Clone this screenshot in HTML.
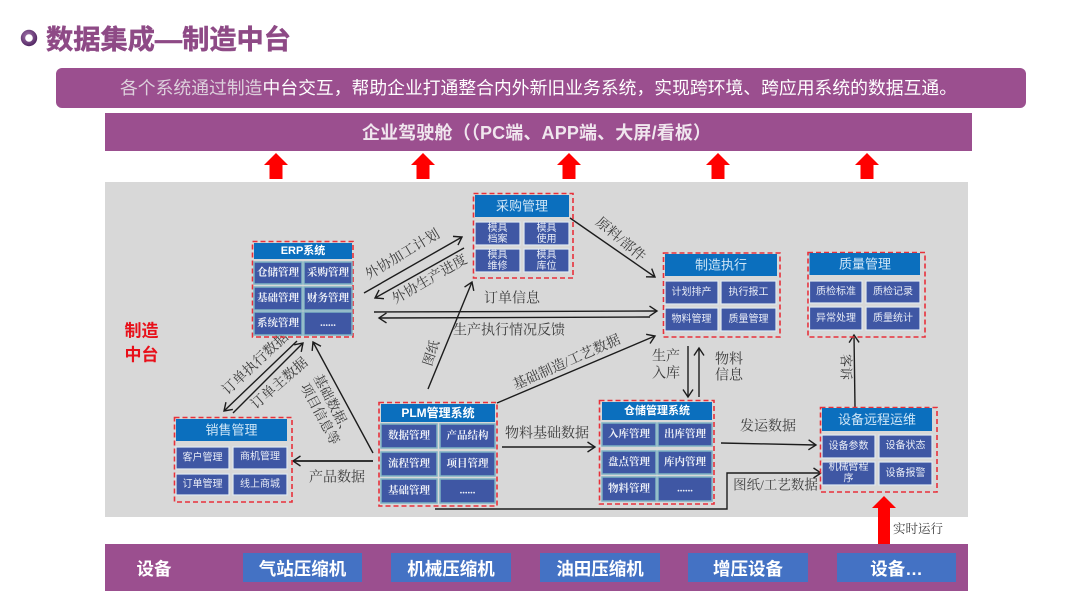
<!DOCTYPE html>
<html lang="zh">
<head>
<meta charset="utf-8">
<title>数据集成—制造中台</title>
<style>
html,body{margin:0;padding:0;background:#fff;width:1080px;height:608px;overflow:hidden}
svg{display:block;filter:blur(0.3px)}
text{font-family:"Liberation Sans","Noto Sans CJK SC",sans-serif}
.l{font-family:"Liberation Serif","Noto Serif CJK SC",serif;fill:#3c3c3c;font-size:14px;text-anchor:middle;dominant-baseline:central}
.h{fill:#0b6fbe}
.c{fill:#3f57a4;stroke:#dfe8f0;stroke-width:1.2}
.c2{fill:#3f57a4;stroke:#7fb3c4;stroke-width:1.5}
.d{fill:none;stroke:#e8303a;stroke-width:1.6;stroke-dasharray:5 3}
.ht{fill:#cfe6f7;font-size:13px;text-anchor:middle;dominant-baseline:central}
.hb{fill:#fff;font-size:11px;font-weight:bold;text-anchor:middle;dominant-baseline:central}
.t{fill:#e8ecf6;font-size:10px;text-anchor:middle;dominant-baseline:central}
.tb{fill:#eef1f8;font-size:10.5px;font-weight:bold;text-anchor:middle;dominant-baseline:central;font-family:"Liberation Serif","Noto Serif CJK SC",serif}
.a{fill:none;stroke:#1c1c1c;stroke-width:1.4;marker-end:url(#m)}
.e{fill:#4472c4}
.et{fill:#fff;font-size:17.5px;font-weight:bold;text-anchor:middle;dominant-baseline:central}
</style>
</head>
<body>
<svg width="1080" height="608" viewBox="0 0 1080 608" xmlns="http://www.w3.org/2000/svg">
<defs>
<marker id="m" markerUnits="userSpaceOnUse" markerWidth="14" markerHeight="14" refX="9" refY="6" orient="auto">
<path d="M1.500 1 L9 6 L1.500 11" fill="none" stroke="#1c1c1c" stroke-width="1.4"/>
</marker>
<radialGradient id="ring" cx="0.4" cy="0.35" r="0.8"><stop offset="0" stop-color="#a878b0"/><stop offset="1" stop-color="#552a66"/></radialGradient>
</defs>

<!-- header -->
<circle cx="29" cy="38" r="6" fill="none" stroke="url(#ring)" stroke-width="4.4"/>
<text x="46" y="40" font-size="27" font-weight="bold" fill="#8e4a86" stroke="#8e4a86" stroke-width="0.5" dominant-baseline="central" textLength="245" lengthAdjust="spacingAndGlyphs">数据集成—制造中台</text>
<rect x="56" y="68" width="970" height="40" rx="6" fill="#9b4f8f"/>
<text x="120" y="88" font-size="17.8" fill="#fff" dominant-baseline="central" textLength="837"><tspan fill="#ddd0dc">各个系统通过制造</tspan>中台交互，帮助企业打通整合内外新旧业务系统，实现跨环境、跨应用系统的数据互通。</text>
<rect x="105" y="113" width="867" height="38" fill="#9b4f8f"/>
<text x="362" y="133" font-size="18" font-weight="bold" fill="#f0e6ee" dominant-baseline="central" textLength="349">企业驾驶舱（（PC端、APP端、大屏/看板）</text>

<!-- up arrows -->
<g fill="#ff0000">
<path d="M276 153 L288 165 L282.500 165 L282.500 179 L269.500 179 L269.500 165 L264 165Z"/>
<path d="M423 153 L435 165 L429.500 165 L429.500 179 L416.500 179 L416.500 165 L411 165Z"/>
<path d="M569 153 L581 165 L575.500 165 L575.500 179 L562.500 179 L562.500 165 L557 165Z"/>
<path d="M718 153 L730 165 L724.500 165 L724.500 179 L711.500 179 L711.500 165 L706 165Z"/>
<path d="M867 153 L879 165 L873.500 165 L873.500 179 L860.500 179 L860.500 165 L855 165Z"/>
</g>

<!-- gray panel -->
<rect x="105" y="182" width="863" height="335" fill="#d8d8d8"/>
<text x="141.500" y="331" font-size="17" font-weight="bold" fill="#e8101a" text-anchor="middle" dominant-baseline="central">制造</text>
<text x="141.500" y="355" font-size="17" font-weight="bold" fill="#e8101a" text-anchor="middle" dominant-baseline="central">中台</text>

<!-- connectors -->
<path class="a" d="M364 293 L462 237"/>
<path class="a" d="M464 248 L375 298"/>
<path class="a" d="M374 312 L657 311"/>
<path class="a" d="M650 317 L379 318"/>
<path class="a" d="M428 389 L472 282"/>
<path class="a" d="M570 218 L655 277"/>
<path class="a" d="M497 403 L655 336"/>
<path class="a" d="M688 346 L688 397"/>
<path class="a" d="M699 397 L699 348"/>
<path class="a" d="M502 447 L595 447"/>
<path class="a" d="M721 443 L816 445"/>
<path class="a" d="M435 509 L727 509 L727 473 L821 473"/>
<path class="a" d="M855 407 L854 335"/>
<path class="a" d="M373 461 L293 461" style="stroke-width:1.8"/>
<path class="a" d="M373 453 L313 342"/>
<path class="a" d="M297 341 L224 411"/>
<path class="a" d="M233 413 L303 343"/>

<!-- connector labels -->
<text class="l" transform="translate(403 255) rotate(-31)">外协加工计划</text>
<text class="l" transform="translate(430 280) rotate(-30)">外协生产进度</text>
<text class="l" x="512" y="299">订单信息</text>
<text class="l" x="509" y="331">生产执行情况反馈</text>
<text class="l" style="font-size:13px" transform="translate(431 353) rotate(-72)">图纸</text>
<text class="l" transform="translate(620 240) rotate(40)">原料/部件</text>
<text class="l" transform="translate(567 363) rotate(-24)">基础制造/工艺数据</text>
<text class="l" x="666" y="357">生产</text>
<text class="l" x="666" y="374">入库</text>
<text class="l" x="729" y="360">物料</text>
<text class="l" x="729" y="376">信息</text>
<text class="l" x="547" y="434">物料基础数据</text>
<text class="l" x="768" y="427">发运数据</text>
<text class="l" style="font-size:13.500px" x="775.500" y="485">图纸/工艺数据</text>
<text class="l" style="font-size:13px" transform="translate(846 367) rotate(90)">客诉</text>
<text class="l" x="337" y="478">产品数据</text>
<text class="l" style="font-size:13.500px" transform="translate(333 405) rotate(62)">基础数据、</text>
<text class="l" style="font-size:13.500px" transform="translate(320 414) rotate(62)">项目信息等</text>
<text class="l" transform="translate(256 364) rotate(-43)">订单执行数据</text>
<text class="l" transform="translate(280 384) rotate(-41)">订单主数据</text>
<text class="l" x="918" y="529" style="font-size:12.500px">实时运行</text>

<!-- ERP -->
<rect class="d" x="252.500" y="241.500" width="100.500" height="95.500"/>
<rect class="h" x="254" y="243" width="98" height="16"/>
<text class="hb" x="303" y="251">ERP系统</text>
<rect class="c2" x="254" y="262" width="48" height="22"/><text class="tb" x="278" y="273">仓储管理</text>
<rect class="c2" x="304" y="262" width="48" height="22"/><text class="tb" x="328" y="273">采购管理</text>
<rect class="c2" x="254" y="287" width="48" height="23"/><text class="tb" x="278" y="298.500">基础管理</text>
<rect class="c2" x="304" y="287" width="48" height="23"/><text class="tb" x="328" y="298.500">财务管理</text>
<rect class="c2" x="254" y="312" width="48" height="23"/><text class="tb" x="278" y="323.500">系统管理</text>
<rect class="c2" x="304" y="312" width="48" height="23"/><text class="tb" x="328" y="323.500">......</text>

<!-- 采购 -->
<rect class="d" x="473.500" y="193.500" width="99.500" height="84.500"/>
<rect class="h" x="475" y="195" width="94" height="22"/>
<text class="ht" x="522" y="206">采购管理</text>
<rect class="c" x="475" y="222" width="45" height="23"/><text class="t" x="497.500" y="228.500">模具</text><text class="t" x="497.500" y="239.500">档案</text>
<rect class="c" x="524" y="222" width="45" height="23"/><text class="t" x="546.500" y="228.500">模具</text><text class="t" x="546.500" y="239.500">使用</text>
<rect class="c" x="475" y="249" width="45" height="23"/><text class="t" x="497.500" y="255.500">模具</text><text class="t" x="497.500" y="266.500">维修</text>
<rect class="c" x="524" y="249" width="45" height="23"/><text class="t" x="546.500" y="255.500">模具</text><text class="t" x="546.500" y="266.500">库位</text>

<!-- 制造执行 -->
<rect class="d" x="663.500" y="253" width="116.500" height="84"/>
<rect class="h" x="665" y="254" width="112" height="22"/>
<text class="ht" x="721" y="265">制造执行</text>
<rect class="c" x="665" y="281" width="53" height="23"/><text class="t" x="691.500" y="292.500">计划排产</text>
<rect class="c" x="721" y="281" width="55" height="23"/><text class="t" x="748.500" y="292.500">执行报工</text>
<rect class="c" x="665" y="308" width="53" height="23"/><text class="t" x="691.500" y="319.500">物料管理</text>
<rect class="c" x="721" y="308" width="55" height="23"/><text class="t" x="748.500" y="319.500">质量管理</text>

<!-- 质量管理 -->
<rect class="d" x="808" y="252.500" width="117" height="84.500"/>
<rect class="h" x="809.500" y="253" width="110.500" height="22"/>
<text class="ht" x="865" y="264">质量管理</text>
<rect class="c" x="809.500" y="281" width="52.500" height="22"/><text class="t" x="836" y="292">质检标准</text>
<rect class="c" x="866" y="281" width="54" height="22"/><text class="t" x="893" y="292">质检记录</text>
<rect class="c" x="809.500" y="307" width="52.500" height="23"/><text class="t" x="836" y="318.500">异常处理</text>
<rect class="c" x="866" y="307" width="54" height="23"/><text class="t" x="893" y="318.500">质量统计</text>

<!-- 销售管理 -->
<rect class="d" x="174.500" y="417.500" width="117.500" height="84.500"/>
<rect class="h" x="176" y="419" width="111" height="22"/>
<text class="ht" x="231.500" y="430">销售管理</text>
<rect class="c" x="176" y="447" width="53" height="22"/><text class="t" x="202.500" y="458">客户管理</text>
<rect class="c" x="233" y="447" width="54" height="22"/><text class="t" x="260" y="457">商机管理</text>
<rect class="c" x="176" y="474" width="53" height="21"/><text class="t" x="202.500" y="484.500">订单管理</text>
<rect class="c" x="233" y="474" width="54" height="21"/><text class="t" x="260" y="484.500">线上商城</text>

<!-- PLM -->
<rect class="d" x="379" y="402.500" width="118" height="103.500"/>
<rect class="h" x="381" y="404" width="114" height="18"/>
<text class="hb" x="438" y="413" style="font-size:12px">PLM管理系统</text>
<rect class="c2" x="381" y="424" width="56" height="24"/><text class="tb" x="409" y="436">数据管理</text>
<rect class="c2" x="440" y="424" width="55" height="24"/><text class="tb" x="467.500" y="436">产品结构</text>
<rect class="c2" x="381" y="452" width="56" height="24"/><text class="tb" x="409" y="464">流程管理</text>
<rect class="c2" x="440" y="452" width="55" height="24"/><text class="tb" x="467.500" y="464">项目管理</text>
<rect class="c2" x="381" y="479" width="56" height="24"/><text class="tb" x="409" y="491">基础管理</text>
<rect class="c2" x="440" y="479" width="55" height="24"/><text class="tb" x="467.500" y="491">......</text>

<!-- 仓储 -->
<rect class="d" x="599.500" y="400.500" width="114.500" height="103.500"/>
<rect class="h" x="602" y="402" width="110" height="18"/>
<text class="hb" x="657" y="411">仓储管理系统</text>
<rect class="c2" x="602" y="423" width="54" height="23"/><text class="tb" x="629" y="434.500">入库管理</text>
<rect class="c2" x="658" y="423" width="54" height="23"/><text class="tb" x="685" y="434.500">出库管理</text>
<rect class="c2" x="602" y="451" width="54" height="23"/><text class="tb" x="629" y="462.500">盘点管理</text>
<rect class="c2" x="658" y="451" width="54" height="23"/><text class="tb" x="685" y="462.500">库内管理</text>
<rect class="c2" x="602" y="477" width="54" height="24"/><text class="tb" x="629" y="489">物料管理</text>
<rect class="c2" x="658" y="477" width="54" height="24"/><text class="tb" x="685" y="489">......</text>

<!-- 设备远程运维 -->
<rect class="d" x="820.500" y="407.500" width="116.500" height="84.500"/>
<rect class="h" x="822" y="408" width="110" height="23"/>
<text class="ht" x="877" y="419.500">设备远程运维</text>
<rect class="c" x="822" y="435" width="53" height="23"/><text class="t" x="848.500" y="446.500">设备参数</text>
<rect class="c" x="879" y="435" width="53" height="23"/><text class="t" x="905.500" y="446">设备状态</text>
<rect class="c" x="822" y="462" width="53" height="23"/><text class="t" x="848.500" y="467.500">机械臂程</text><text class="t" x="848.500" y="479">序</text>
<rect class="c" x="879" y="462" width="53" height="23"/><text class="t" x="905.500" y="473.500">设备报警</text>

<!-- bottom arrow -->
<path d="M884 496 L896 508 L890 508 L890 544 L878 544 L878 508 L872 508Z" fill="#ff0000"/>

<!-- equipment bar -->
<rect x="105" y="544" width="863" height="47" fill="#9b4f8f"/>
<text x="154" y="569" font-size="17.500" font-weight="bold" fill="#fff" text-anchor="middle" dominant-baseline="central">设备</text>
<rect class="e" x="243" y="553" width="119" height="29"/><text class="et" x="302.500" y="569">气站压缩机</text>
<rect class="e" x="391" y="553" width="120" height="29"/><text class="et" x="451" y="569">机械压缩机</text>
<rect class="e" x="540" y="553" width="120" height="29"/><text class="et" x="600" y="569">油田压缩机</text>
<rect class="e" x="688" y="553" width="120" height="29"/><text class="et" x="748" y="569">增压设备</text>
<rect class="e" x="837" y="553" width="119" height="29"/><text class="et" x="896.500" y="569">设备…</text>
</svg>
</body>
</html>
